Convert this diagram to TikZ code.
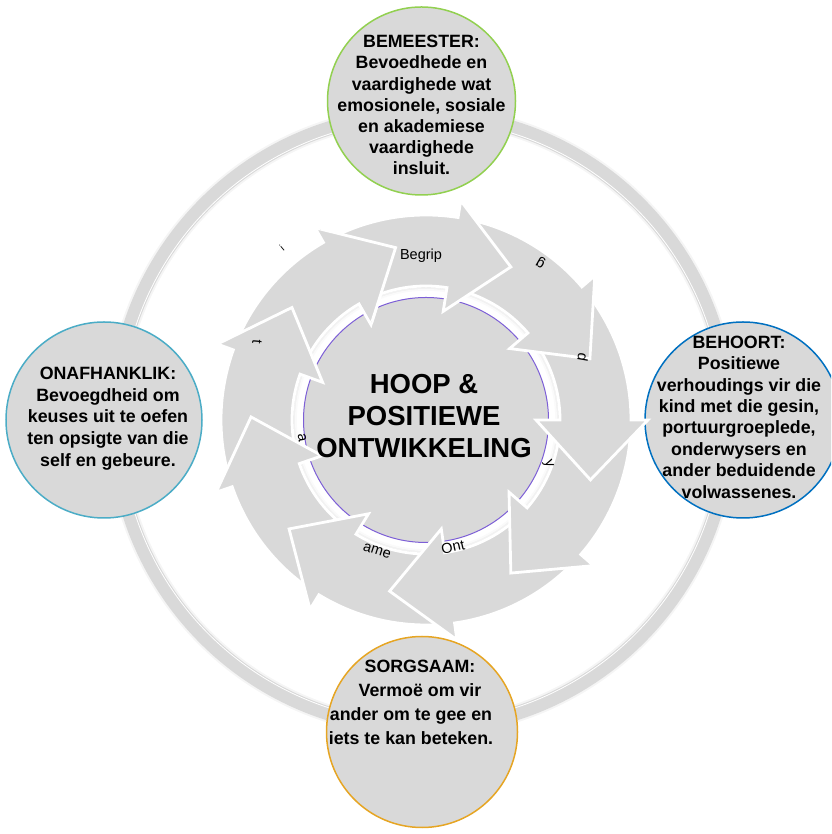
\documentclass[tikz,border=0pt]{standalone}
\usepackage{fontspec}
\setmainfont{Liberation Sans}
\definecolor{ringgray}{RGB}{217,217,217}
\definecolor{cgreen}{RGB}{146,208,80}
\definecolor{cteal}{RGB}{75,172,198}
\definecolor{cblue}{RGB}{0,112,192}
\definecolor{corange}{RGB}{230,165,35}
\definecolor{cpurple}{RGB}{125,95,215}
\newcommand\arrowseg[2]{\path[arrowbox] (#1:205) arc[start angle=#1, end angle=#2, radius=205] -- (#2:222) -- ({#2-20}:175) -- (#2:110) -- (#2:134) arc[start angle=#2, end angle=#1, radius=134] -- cycle;}
\begin{document}
\begin{tikzpicture}[x=1pt,y=1pt,
  arrowbox/.style={fill=ringgray, draw=white, line width=2.8pt, line join=miter},
  satcircle/.style={circle, fill=ringgray, line width=1.5pt, inner sep=0pt},
  sattext/.style={align=center, inner sep=0pt, anchor=north, font=\bfseries\fontsize{17.8}{21.2}\selectfont},
  arrowlabel/.style={inner sep=0pt, font=\fontsize{14.5}{16}\selectfont}]
\useasboundingbox (0,0) rectangle (831,834);
\clip (0,0) rectangle (831,834);
% outer ring
\coordinate (oc) at (422,413);
\draw[black!4, line width=18pt] (oc) circle[radius=307];
\draw[ringgray, line width=14pt] (oc) circle[radius=307];
\draw[white, line width=0.8pt] (oc) circle[radius=301.5];
% satellites
\node[satcircle, draw=cgreen, minimum size=188pt] (top) at (421.5,733) {};
\node[satcircle, draw=cteal, minimum size=196pt] (left) at (104,414) {};
\node[satcircle, draw=cblue, minimum size=196pt] (right) at (743,414) {};
\node[satcircle, draw=corange, minimum size=191pt] (bottom) at (422,102) {};
% center
\coordinate (c) at (426,414);
\fill[white] (c) circle[radius=136];
\draw[black!9, line width=1.5pt] (c) circle[radius=133];
\draw[black!5, line width=1.5pt] (c) circle[radius=131.5];
\draw[black!2, line width=1.5pt] (c) circle[radius=130];
\node[circle, minimum size=245pt, inner sep=0pt, fill=ringgray, draw=cpurple, line width=1pt] (hub) at (c) {};
% arrows
\begin{scope}[shift={(c)}]
 \arrowseg{-202}{-240}
 \arrowseg{-163}{-200}
 \arrowseg{-123.5}{-161}
 \arrowseg{-84}{-121.5}
 \arrowseg{-43}{-82}
 \arrowseg{-2}{-41}
 \arrowseg{38.5}{0}
 \arrowseg{79}{40.5}
 \arrowseg{118}{81}
 \begin{scope}
  \clip (0,0) -- (119:320) arc[start angle=119, end angle=92, radius=320] -- cycle;
  \arrowseg{-202}{-240}
 \end{scope}
\end{scope}
% arrow labels
\node[arrowlabel] (l1) at (421,578) {Begrip};
\node[arrowlabel, rotate=150] (l2) at (541,571) {g};
\node[arrowlabel, rotate=-100] (l3) at (583,477) {d};
\node[arrowlabel, rotate=-70] (l4) at (548,370) {y};
\node[arrowlabel, rotate=13] (l5) at (453,287) {Ont};
\node[arrowlabel, rotate=-18] (l6) at (377,283) {ame};
\node[arrowlabel, rotate=-80] (l7) at (302,396) {a};
\node[arrowlabel, rotate=-95] (l8) at (257,492) {t};
\node[arrowlabel, rotate=40, font=\fontsize{10}{12}\selectfont] (l9) at (282,586) {i};
% center text
\node[align=center, inner sep=0pt, anchor=north, font=\bfseries\fontsize{27.5}{32}\selectfont] (title) at (424,459.7) {HOOP \&\\POSITIEWE\\ONTWIKKELING};
% satellite texts
\node[sattext] (bemeestertxt) at (421.5,799) {BEMEESTER:\\Bevoedhede en\\vaardighede wat\\emosionele, sosiale\\en akademiese\\vaardighede\\insluit.};
\node[sattext, font=\bfseries\fontsize{17.8}{21.8}\selectfont] (onafhanklik) at (108,467.4) {ONAFHANKLIK:\\Bevoegdheid om\\keuses uit te oefen\\ten opsigte van die\\self en gebeure.};
\node[sattext, font=\bfseries\fontsize{17.8}{21.4}\selectfont] (behoort) at (739,498.4) {BEHOORT:\\Positiewe\\verhoudings vir die\\kind met die gesin,\\portuurgroeplede,\\onderwysers en\\ander beduidende\\volwassenes.};
\node[sattext, font=\bfseries\fontsize{17.8}{24}\selectfont] (sorgsaam) at (420,174) {SORGSAAM:\\Vermoë om vir\\ander om te gee en\rule{18pt}{0pt}\\iets te kan beteken.\rule{18pt}{0pt}};
\end{tikzpicture}
\end{document}
